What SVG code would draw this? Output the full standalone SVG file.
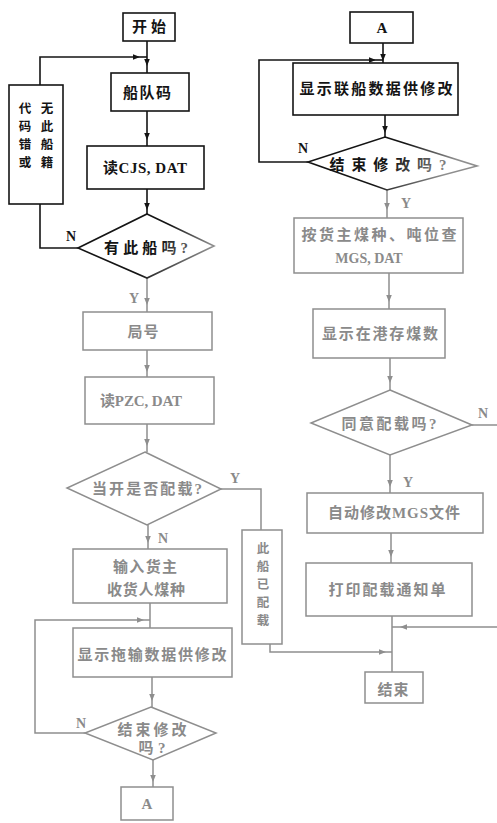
<svg xmlns="http://www.w3.org/2000/svg" width="497" height="823" viewBox="0 0 497 823">
<style>
.bk{fill:#fff;stroke:#141414;stroke-width:1.6}
.gr{fill:#fff;stroke:#8e8e8e;stroke-width:1.5}
.t{font-family:"Liberation Serif","Noto Sans CJK SC",serif;font-weight:bold;font-size:15px;text-anchor:middle}
.tb{fill:#141414}
.tg{fill:#8a8a8a}
.lb{fill:none;stroke:#141414;stroke-width:1.6}
.lg{fill:none;stroke:#8e8e8e;stroke-width:1.5}
.lbl{font-family:"Liberation Serif",serif;font-weight:bold;font-size:14px}
.v{font-family:"Noto Sans CJK SC",sans-serif;font-weight:bold;font-size:12.5px;text-anchor:middle}
</style>
<defs>
<marker id="ab" viewBox="0 0 10 10" refX="10" refY="5" markerWidth="7" markerHeight="7" markerUnits="userSpaceOnUse" orient="auto"><path d="M0,1L10,5L0,9z" fill="#141414"/></marker>
<marker id="ag" viewBox="0 0 10 10" refX="10" refY="5" markerWidth="7" markerHeight="7" markerUnits="userSpaceOnUse" orient="auto"><path d="M0,1L10,5L0,9z" fill="#8e8e8e"/></marker>
<linearGradient id="g1" gradientUnits="userSpaceOnUse" x1="160" y1="240" x2="200" y2="265"><stop offset="0" stop-color="#141414"/><stop offset="1" stop-color="#8e8e8e"/></linearGradient>
<linearGradient id="g2" gradientUnits="userSpaceOnUse" x1="400" y1="150" x2="440" y2="180"><stop offset="0" stop-color="#141414"/><stop offset="1" stop-color="#8e8e8e"/></linearGradient>
</defs>
<rect width="497" height="823" fill="#fff"/>

<g id="connectors">
<path class="lb" d="M147,41V66" marker-end="url(#ab)"/><path class="lb" d="M147,66V73"/>
<path class="lb" d="M147,111V140" marker-end="url(#ab)"/><path class="lb" d="M147,140V146"/>
<path class="lb" d="M147,189V210" marker-end="url(#ab)"/><path class="lb" d="M147,210V214"/>
<path class="lb" d="M78,248H40V204"/>
<path class="lb" d="M40,85V57H140" marker-end="url(#ab)"/><path class="lb" d="M140,57H147"/>
<path class="lg" d="M147,278V305" marker-end="url(#ag)"/><path class="lg" d="M147,305V312"/>
<path class="lg" d="M147,350V372" marker-end="url(#ag)"/><path class="lg" d="M147,372V377"/>
<path class="lg" d="M147,424V446" marker-end="url(#ag)"/><path class="lg" d="M147,446V452"/>
<path class="lg" d="M221,489H261V530"/>
<path class="lg" d="M148,525V543" marker-end="url(#ag)"/><path class="lg" d="M148,543V549"/>
<path class="lg" d="M150,603V628"/>
<path class="lg" d="M85,733H35V620H144" marker-end="url(#ag)"/><path class="lg" d="M144,620H150"/>
<path class="lg" d="M152,677V701" marker-end="url(#ag)"/><path class="lg" d="M152,701V707"/>
<path class="lg" d="M153,760V782" marker-end="url(#ag)"/><path class="lg" d="M153,782V787"/>
<path class="lb" d="M383,43V61" marker-end="url(#ab)"/><path class="lb" d="M383,61V63"/>
<path class="lb" d="M308,162H259V60H376" marker-end="url(#ab)"/><path class="lb" d="M376,60H383"/>
<path class="lb" d="M385,115V133" marker-end="url(#ab)"/><path class="lb" d="M385,133V137"/>
<path class="lg" d="M387,190V210" marker-end="url(#ag)"/><path class="lg" d="M387,210V218"/>
<path class="lg" d="M389,273V302" marker-end="url(#ag)"/><path class="lg" d="M389,302V309"/>
<path class="lg" d="M390,358V383" marker-end="url(#ag)"/><path class="lg" d="M390,383V390"/>
<path class="lg" d="M472,425H497"/>
<path class="lg" d="M390,455V487" marker-end="url(#ag)"/><path class="lg" d="M390,487V493"/>
<path class="lg" d="M391,533V557" marker-end="url(#ag)"/><path class="lg" d="M391,557V563"/>
<path class="lg" d="M392,616V672"/>
<path class="lg" d="M497,627H400" marker-end="url(#ag)"/><path class="lg" d="M400,627H392"/>
<path class="lg" d="M270,644V652H386" marker-end="url(#ag)"/><path class="lg" d="M386,652H392"/>
<text class="lbl tb" x="66" y="241">N</text>
<text class="lbl tg" x="129" y="303">Y</text>
<text class="lbl tg" x="230" y="483">Y</text>
<text class="lbl tg" x="158" y="543">N</text>
<text class="lbl tg" x="76" y="728">N</text>
<text class="lbl tb" x="298" y="153">N</text>
<text class="lbl tg" x="401" y="208">Y</text>
<text class="lbl tg" x="478" y="418">N</text>
<text class="lbl tg" x="403" y="487">Y</text>
</g>

<g id="start"><rect class="bk" x="123" y="13" width="52" height="28"/><text class="t tb" x="149" y="32" textLength="34" lengthAdjust="spacing">开始</text></g>
<g id="fleet"><rect class="bk" x="111" y="73" width="78" height="38"/><text class="t tb" x="147" y="98" textLength="48" lengthAdjust="spacing">船队码</text></g>
<g id="readcjs"><rect class="bk" x="87" y="146" width="117" height="43"/><text class="t tb" x="145" y="173" textLength="84" lengthAdjust="spacing">读CJS, DAT</text></g>
<g id="noship"><rect class="bk" x="9" y="85" width="54" height="119"/>
<text class="v tb" x="47" y="113">无</text><text class="v tb" x="47" y="131">此</text><text class="v tb" x="47" y="149">船</text><text class="v tb" x="47" y="167">籍</text>
<text class="v tb" x="25" y="113">代</text><text class="v tb" x="25" y="131">码</text><text class="v tb" x="25" y="149">错</text><text class="v tb" x="25" y="167">或</text></g>
<g id="hasship"><path d="M147,214L214,246L147,278L78,248Z" fill="#fff" stroke="url(#g1)" stroke-width="1.6"/><text class="t" x="146" y="253" textLength="84" lengthAdjust="spacing" fill="url(#g1)">有此船吗?</text></g>
<g id="bureau"><rect class="gr" x="83" y="312" width="129" height="38"/><text class="t tg" x="143" y="337" textLength="31" lengthAdjust="spacing">局号</text></g>
<g id="readpzc"><rect class="gr" x="85" y="377" width="129" height="47"/><text class="t tg" x="141" y="406" textLength="82" lengthAdjust="spacing">读PZC, DAT</text></g>
<g id="loaded"><path class="gr" d="M145,452L221,489L147,525L67,488Z"/><text class="t tg" x="147" y="494" textLength="110" lengthAdjust="spacing">当开是否配载?</text></g>
<g id="already"><rect class="gr" x="242" y="530" width="40" height="114"/>
<text class="v tg" x="263" y="553">此</text><text class="v tg" x="263" y="571">船</text><text class="v tg" x="263" y="589">已</text><text class="v tg" x="263" y="607">配</text><text class="v tg" x="263" y="625">载</text></g>
<g id="input"><rect class="gr" x="73" y="549" width="154" height="54"/><text class="t tg" x="145" y="572" textLength="64" lengthAdjust="spacing">输入货主</text><text class="t tg" x="146" y="595" textLength="78" lengthAdjust="spacing">收货人煤种</text></g>
<g id="showtow"><rect class="gr" x="73" y="628" width="159" height="49"/><text class="t tg" x="152" y="660" textLength="149" lengthAdjust="spacing">显示拖输数据供修改</text></g>
<g id="endmod1"><path class="gr" d="M151,707L216,733L153,760L85,733Z"/><text class="t tg" x="152" y="735" textLength="69" lengthAdjust="spacing">结束修改</text><text class="t tg" x="152" y="753" textLength="27" lengthAdjust="spacing">吗?</text></g>
<g id="a1"><rect class="gr" x="121" y="787" width="52" height="33"/><text class="t tg" x="147" y="809">A</text></g>

<g id="a2"><rect class="bk" x="350" y="12" width="63" height="31"/><text class="t tb" x="382" y="33">A</text></g>
<g id="showship"><rect class="bk" x="293" y="63" width="165" height="52"/><text class="t tb" x="376" y="94" textLength="153" lengthAdjust="spacing">显示联船数据供修改</text></g>
<g id="endmod2"><path d="M385,137L477,166L387,190L308,162Z" fill="#fff" stroke="url(#g2)" stroke-width="1.6"/><text class="t" x="388" y="170" textLength="117" lengthAdjust="spacing" fill="url(#g2)">结束修改吗?</text></g>
<g id="query"><rect class="gr" x="294" y="218" width="169" height="55"/><text class="t tg" x="379" y="240" textLength="155" lengthAdjust="spacing">按货主煤种、吨位查</text><text class="t tg" x="369" y="263" style="font-size:14px">MGS, DAT</text></g>
<g id="stock"><rect class="gr" x="313" y="309" width="132" height="49"/><text class="t tg" x="380" y="339" textLength="116" lengthAdjust="spacing">显示在港存煤数</text></g>
<g id="agree"><path class="gr" d="M390,390L472,425L390,455L311,423Z"/><text class="t tg" x="389" y="429" textLength="95" lengthAdjust="spacing">同意配载吗?</text></g>
<g id="automod"><rect class="gr" x="307" y="493" width="176" height="40"/><text class="t tg" x="394" y="518" textLength="132" lengthAdjust="spacing">自动修改MGS文件</text></g>
<g id="print"><rect class="gr" x="306" y="563" width="166" height="53"/><text class="t tg" x="387" y="595" textLength="117" lengthAdjust="spacing">打印配载通知单</text></g>
<g id="end"><rect class="gr" x="365" y="672" width="58" height="31"/><text class="t tg" x="393" y="695" textLength="31" lengthAdjust="spacing">结束</text></g>
</svg>
